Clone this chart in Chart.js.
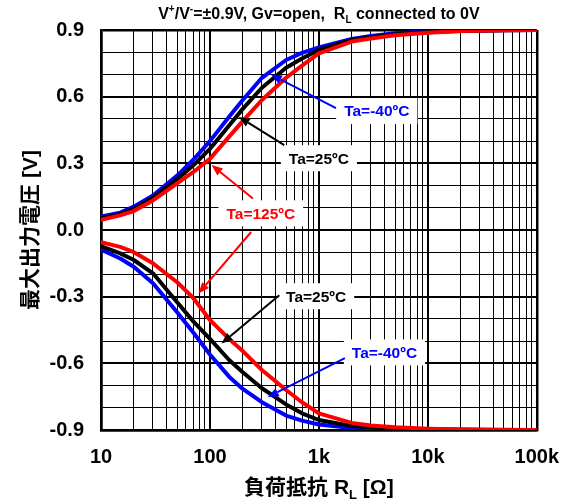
<!DOCTYPE html>
<html>
<head>
<meta charset="utf-8">
<script src="https://cdn.jsdelivr.net/npm/chart.js@4.4.1/dist/chart.umd.min.js"></script>
<style>
  html, body { margin: 0; padding: 0; background: #fff; }
  #wrap { width: 574px; height: 502px; }
</style>
</head>
<body>
<div id="wrap"><canvas id="c" width="574" height="502"></canvas></div>
<script>
// Load resistance RL [ohm] at which the output swing was measured
const loadResistance = [10, 15, 20, 30, 50, 70, 100, 150, 200, 300, 500, 700, 1000, 2000, 3000, 5000, 10000, 20000, 50000, 100000];

// Maximum output voltage [V], high side (+) and low side (-), per ambient temperature
const vPosM40 = [0.060, 0.078, 0.105, 0.155, 0.245, 0.315, 0.400, 0.510, 0.585, 0.685, 0.765, 0.797, 0.822, 0.860, 0.873, 0.885, 0.893, 0.897, 0.899, 0.900];
const vPos25  = [0.053, 0.072, 0.095, 0.145, 0.228, 0.290, 0.365, 0.470, 0.545, 0.640, 0.730, 0.772, 0.810, 0.855, 0.868, 0.881, 0.891, 0.896, 0.899, 0.900];
const vPos125 = [0.046, 0.066, 0.085, 0.133, 0.210, 0.260, 0.320, 0.420, 0.490, 0.585, 0.685, 0.740, 0.795, 0.848, 0.862, 0.876, 0.888, 0.895, 0.899, 0.900];
const vNegM40 = [-0.088, -0.128, -0.165, -0.240, -0.370, -0.460, -0.560, -0.660, -0.715, -0.775, -0.835, -0.858, -0.875, -0.891, -0.895, -0.897, -0.899, -0.900, -0.900, -0.900];
const vNeg25  = [-0.073, -0.105, -0.135, -0.195, -0.325, -0.410, -0.490, -0.585, -0.640, -0.712, -0.785, -0.825, -0.855, -0.882, -0.888, -0.893, -0.897, -0.899, -0.900, -0.900];
const vNeg125 = [-0.055, -0.076, -0.100, -0.150, -0.235, -0.305, -0.405, -0.490, -0.545, -0.630, -0.720, -0.775, -0.825, -0.868, -0.880, -0.888, -0.894, -0.897, -0.899, -0.900];

// Axis ticks
const xDecades = [10, 100, 1000, 10000, 100000];
const xTickLabels = ['10', '100', '1k', '10k', '100k'];
const yTickValues = [-0.9, -0.6, -0.3, 0.0, 0.3, 0.6, 0.9];
const yTickLabels = ['-0.9', '-0.6', '-0.3', '0.0', '0.3', '0.6', '0.9'];

// Texts
const titleParts = [
  { t: 'V' }, { t: '+', shift: -0.42 }, { t: '/V' }, { t: '-', shift: -0.42 },
  { t: '=\u00b10.9V, Gv=open,  R' }, { t: 'L', shift: 0.25 }, { t: ' connected to 0V' }
];
const xTitleParts = [{ t: '負荷抵抗 R' }, { t: 'L', shift: 0.25 }, { t: ' [Ω]' }];
const yTitle = '最大出力電圧 [V]';

// Curve callouts: label anchor and arrow ends in data coordinates (RL, V)
const curveLabels = [
  { text: 'Ta=-40ºC', color: '#0000ff', at: [3400, 0.535], arrows: [{ from: [1436, 0.548], to: [363, 0.700] }] },
  { text: 'Ta=25ºC',  color: '#000000', at: [1000, 0.323], arrows: [{ from: [481, 0.382], to: [184, 0.509] }] },
  { text: 'Ta=125ºC', color: '#ff0000', at: [293, 0.075],  arrows: [{ from: [248, 0.142], to: [103.6, 0.292] }, { from: [239, -0.009], to: [78.5, -0.286] }] },
  { text: 'Ta=25ºC',  color: '#000000', at: [944, -0.298], arrows: [{ from: [433, -0.294], to: [127.7, -0.511] }] },
  { text: 'Ta=-40ºC', color: '#0000ff', at: [4000, -0.551], arrows: [{ from: [1733, -0.577], to: [339, -0.752] }] }
];

const FONT = '"Liberation Sans", Arial, "Noto Sans CJK JP", sans-serif';

const xGridValues = [];
for (const d of [10, 100, 1000, 10000]) for (let m = 1; m < 10; m++) xGridValues.push(d * m);
xGridValues.push(100000);

function toPoints(vals) { return loadResistance.map((r, i) => ({ x: r, y: vals[i] })); }

// red drawn on top, then black, then blue
const series = [
  { vals: vPos125, color: '#ff0000' }, { vals: vNeg125, color: '#ff0000' },
  { vals: vPos25, color: '#000000' },  { vals: vNeg25, color: '#000000' },
  { vals: vPosM40, color: '#0000ff' }, { vals: vNegM40, color: '#0000ff' }
];

function drawRich(ctx, parts, cx, baseline, size) {
  const base = `bold ${size}px ${FONT}`;
  const small = `bold ${Math.round(size * 0.62)}px ${FONT}`;
  const items = parts.map(p => {
    ctx.font = p.shift ? small : base;
    return { ...p, w: ctx.measureText(p.t).width };
  });
  const total = items.reduce((s, p) => s + p.w, 0);
  let xx = cx - total / 2;
  ctx.textAlign = 'left';
  ctx.textBaseline = 'alphabetic';
  for (const p of items) {
    ctx.font = p.shift ? small : base;
    ctx.fillText(p.t, xx, baseline + (p.shift || 0) * size);
    xx += p.w;
  }
}

function drawArrow(ctx, a, b, color) {
  const ang = Math.atan2(b[1] - a[1], b[0] - a[0]);
  const len = 11, half = 4.5;
  const bx = b[0] - Math.cos(ang) * len, by = b[1] - Math.sin(ang) * len;
  ctx.strokeStyle = color;
  ctx.fillStyle = color;
  ctx.lineWidth = 2;
  ctx.beginPath();
  ctx.moveTo(a[0], a[1]);
  ctx.lineTo(bx, by);
  ctx.stroke();
  ctx.beginPath();
  ctx.moveTo(b[0], b[1]);
  ctx.lineTo(bx - Math.sin(ang) * half, by + Math.cos(ang) * half);
  ctx.lineTo(bx + Math.sin(ang) * half, by - Math.cos(ang) * half);
  ctx.closePath();
  ctx.fill();
}

const calloutPlugin = {
  id: 'callouts',
  afterDatasetsDraw(chart) {
    const { ctx } = chart;
    const xs = chart.scales.x, ys = chart.scales.y;
    const px = p => [xs.getPixelForValue(p[0]), ys.getPixelForValue(p[1])];
    ctx.save();
    ctx.font = `bold 15.5px ${FONT}`;
    for (const c of curveLabels) {
      const [cx, cy] = px(c.at);
      const w = ctx.measureText(c.text).width + 16;
      const h = 26;
      ctx.fillStyle = '#ffffff';
      ctx.fillRect(cx - w / 2, cy - h / 2, w, h);
      for (const a of c.arrows) drawArrow(ctx, px(a.from), px(a.to), c.color);
      ctx.fillStyle = c.color;
      ctx.textAlign = 'center';
      ctx.textBaseline = 'middle';
      ctx.font = `bold 15.5px ${FONT}`;
      ctx.fillText(c.text, cx, cy + 1);
    }
    ctx.restore();
  },
  afterDraw(chart) {
    const { ctx, chartArea } = chart;
    const mid = (chartArea.left + chartArea.right) / 2;
    ctx.save();
    ctx.fillStyle = '#000';
    drawRich(ctx, titleParts, mid, 19, 16);
    drawRich(ctx, xTitleParts, mid, 494, 21);
    ctx.translate(31, (chartArea.top + chartArea.bottom) / 2);
    ctx.rotate(-Math.PI / 2);
    ctx.font = `bold 21px ${FONT}`;
    ctx.textAlign = 'center';
    ctx.textBaseline = 'middle';
    ctx.fillText(yTitle, 0, 0);
    ctx.restore();
  }
};

new Chart(document.getElementById('c'), {
  type: 'line',
  data: {
    datasets: series.map(s => ({
      data: toPoints(s.vals),
      borderColor: s.color,
      backgroundColor: s.color,
      borderWidth: 4,
      pointRadius: 0,
      tension: 0,
      fill: false,
      borderJoinStyle: 'round',
      borderCapStyle: 'round'
    }))
  },
  options: {
    responsive: false,
    animation: false,
    devicePixelRatio: 1,
    layout: { padding: { top: 30, right: 32, left: 0, bottom: 0 } },
    plugins: { legend: { display: false }, tooltip: { enabled: false }, title: { display: false } },
    scales: {
      x: {
        type: 'logarithmic',
        min: 10,
        max: 100000,
        afterBuildTicks: s => { s.ticks = xGridValues.map(v => ({ value: v })); },
        afterFit: s => { s.height = 72; },
        ticks: {
          autoSkip: false,
          maxRotation: 0,
          padding: 15,
          color: '#000',
          font: { family: FONT, size: 20, weight: 'bold' },
          callback: v => { const i = xDecades.indexOf(v); return i >= 0 ? xTickLabels[i] : ''; }
        },
        grid: {
          drawTicks: false,
          color: '#000',
          lineWidth: c => {
            const v = c.tick ? c.tick.value : 0;
            if (v === 10 || v === 100000) return 2.5;
            return xDecades.includes(v) ? 2 : 1;
          }
        },
        border: { display: true, color: '#000', width: 2.5 }
      },
      y: {
        min: -0.9,
        max: 0.9,
        afterFit: s => { s.width = 101; },
        ticks: {
          stepSize: 0.1,
          autoSkip: false,
          padding: 17,
          color: '#000',
          font: { family: FONT, size: 20, weight: 'bold' },
          callback: v => {
            const i = yTickValues.findIndex(t => Math.abs(t - v) < 1e-6);
            return i >= 0 ? yTickLabels[i] : '';
          }
        },
        grid: {
          drawTicks: false,
          color: '#000',
          lineWidth: c => {
            const v = c.tick ? c.tick.value : 0;
            if (Math.abs(Math.abs(v) - 0.9) < 1e-6) return 2.5;
            return yTickValues.some(t => Math.abs(t - v) < 1e-6) ? 2 : 1;
          }
        },
        border: { display: true, color: '#000', width: 2.5 }
      }
    }
  },
  plugins: [calloutPlugin]
});
</script>
</body>
</html>
